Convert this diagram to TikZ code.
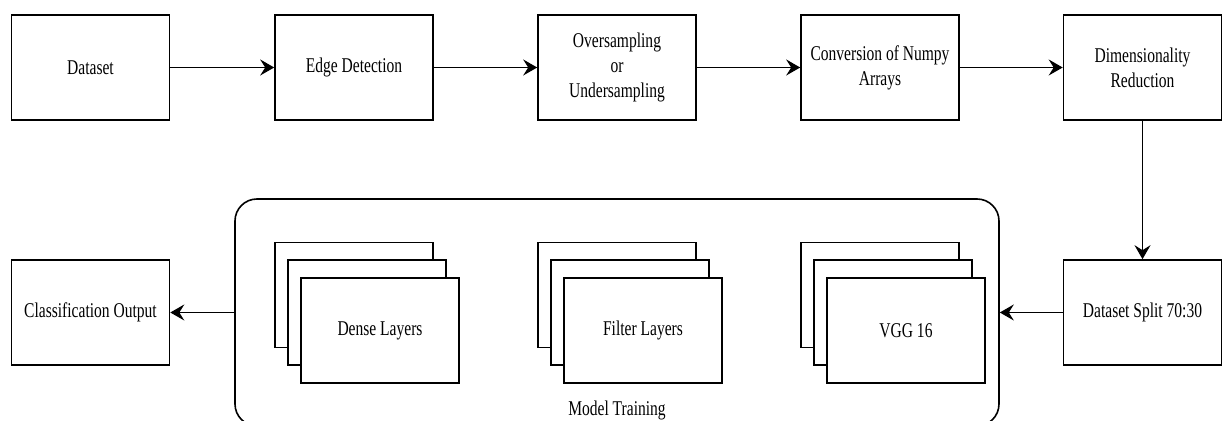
\documentclass[tikz,border=0pt]{standalone}
\usepackage{fontspec}
\setmainfont{Liberation Serif}[FakeStretch=0.74]
\usetikzlibrary{arrows.meta}
\begin{document}
\begin{tikzpicture}
  [x=0.5pt,y=-0.5pt,line width=0.8pt,
   every node/.style={font=\fontsize{10.5}{12.5}\selectfont,align=center},
   box/.style={draw,fill=white,minimum width=79pt,minimum height=52.5pt,inner sep=2pt},
   arr/.style={-{Stealth[length=7pt,width=8pt,inset=2.5pt]}}]
  \useasboundingbox (0,0) rectangle (1222,421);

  % top row
  \node[box] (data) at (90.5,67.5)  {Dataset};
  \node[box] (edge) at (354,67.5)   {Edge Detection};
  \node[box] (samp) at (617,67.5)   {Oversampling\\or\\Undersampling};
  \node[box] (conv) at (880,67.5)   {Conversion of Numpy\\Arrays};
  \node[box] (dim)  at (1142.5,67.5) {Dimensionality\\Reduction};

  % bottom row
  \node[box] (split) at (1142.5,312.5) {Dataset Split 70:30};
  \node[box] (out)   at (90.5,312.5)   {Classification Output};

  % model training
  \node[draw,rounded corners=11pt,minimum width=382pt,minimum height=113.5pt] (train) at (617,312.5) {};
  \node (trainlbl) at (617,410) {Model Training};

  \node[box] (dense1) at (354,295) {};
  \node[box] (dense2) at (367,312.5) {};
  \node[box] (dense3) at (380,330.5) {Dense Layers};
  \node[box] (filt1) at (617,295) {};
  \node[box] (filt2) at (630,312.5) {};
  \node[box] (filt3) at (643,330.5) {Filter Layers};
  \node[box] (vgg1) at (880,295) {};
  \node[box] (vgg2) at (893,312.5) {};
  \node[box] (vgg3) at (906,330.5) {VGG 16};

\path [arr,draw]
(data) edge (edge)
(edge) edge (samp)
(samp) edge (conv)
(conv) edge (dim)
(dim) edge (split)
(split) edge (train)
(train) edge (out)
;
\end{tikzpicture}
\end{document}
